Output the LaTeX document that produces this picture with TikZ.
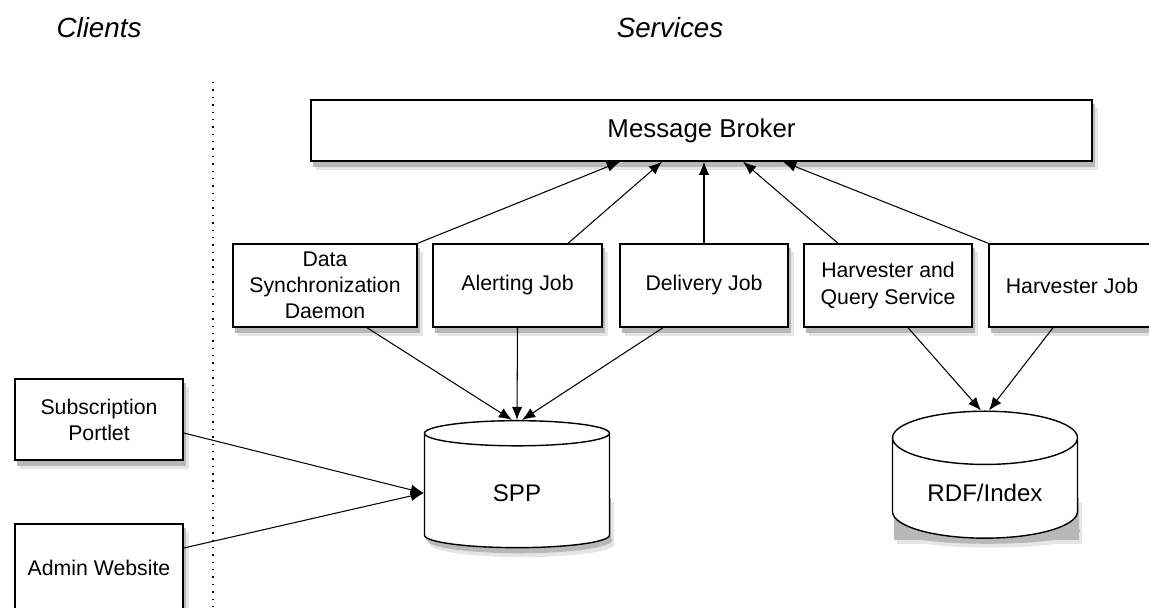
\documentclass[tikz,border=0pt]{standalone}
\usepackage{fontspec}
\setmainfont{Liberation Sans}
\usetikzlibrary{shapes.geometric,arrows.meta,backgrounds}

\tikzset{
    box/.style={draw, line width=0.8pt, fill=white, align=center,
        font=\fontsize{12.1}{14.8}\selectfont},
    store/.style={cylinder, shape border rotate=90, aspect=0.42, draw, line width=0.8pt,
        fill=white, minimum width=3.7cm, minimum height=2.54cm,
        font=\fontsize{13.7}{16}\selectfont},
    arrow/.style={line width=0.6pt, -{Latex[length=7.5pt,width=6pt]}},
    heading/.style={font=\fontsize{15.8}{18}\selectfont\itshape}
}

\begin{document}
\begin{tikzpicture}[x=0.02cm, y=-0.02cm]
        \useasboundingbox (0,0) rectangle (1149,608);

        \node[heading] (clients) at (99,28) {Clients};
        \node[heading] (services) at (670,28) {Services};
        \draw[line width=0.8pt, dash pattern=on 0.8pt off 3.4pt] (213,82) -- (213,608);

        % broker and jobs
        \node[box, minimum width=15.62cm, minimum height=1.22cm,
              font=\fontsize{14.7}{17}\selectfont] (broker) at (701.5,130.5) {Message Broker};
        \node[box, minimum width=3.68cm, minimum height=1.66cm] (sync) at (325,285.5) {Data\\Synchronization\\Daemon};
        \node[box, minimum width=3.38cm, minimum height=1.66cm] (alert) at (517.5,285.5) {Alerting Job};
        \node[box, minimum width=3.36cm, minimum height=1.66cm] (deliver) at (704,285.5) {Delivery Job};
        \node[box, minimum width=3.36cm, minimum height=1.66cm] (query) at (888,285.5) {Harvester and\\Query Service};
        \node[box, minimum width=3.32cm, minimum height=1.66cm] (harvest) at (1072,285.5) {Harvester Job};

        % clients
        \node[box, minimum width=3.36cm, minimum height=1.62cm] (portlet) at (99,419.5) {Subscription\\Portlet};
        \node[box, minimum width=3.36cm, minimum height=1.76cm] (admin) at (99,568) {Admin Website};

        % stores
        \node[store] (spp) at (517,493) {SPP};
        \node[store] (rdf) at (985,493) {RDF/Index};

        % shadows
        \begin{scope}[on background layer]
            \foreach \n in {broker,sync,alert,deliver,query,harvest,portlet,admin} {
                \fill[black!10] ([xshift=3pt,yshift=-5pt]\n.south west) rectangle ([xshift=3pt,yshift=-5pt]\n.north east);
                \fill[black!28] ([xshift=1.5pt,yshift=-2.8pt]\n.south west) rectangle ([xshift=1.5pt,yshift=-2.8pt]\n.north east);
            }
            \foreach \n in {spp,rdf} {
                \fill[black!10] ([xshift=3pt,yshift=-5pt]\n.south) ++(0,-13) ellipse (1.85cm and 0.26cm);
                \fill[black!10] ([xshift=3pt,yshift=-5pt]\n.west) rectangle ++(185,42);
                \fill[black!28] ([xshift=1.5pt,yshift=-2.8pt]\n.south) ++(0,-13) ellipse (1.85cm and 0.26cm);
                \fill[black!28] ([xshift=1.5pt,yshift=-2.8pt]\n.west) rectangle ++(185,42);
            }
        \end{scope}

        \draw[arrow] (sync.north east) -- ([xshift=-1.63cm]broker.south);
        \draw[arrow] ([xshift=1.01cm]alert.north) -- ([xshift=-0.79cm]broker.south);
        \draw[arrow] (deliver.north) -- (deliver.north |- broker.south);
        \draw[arrow] ([xshift=-1cm]query.north) -- ([xshift=0.83cm]broker.south);
        \draw[arrow] (harvest.north west) -- ([xshift=1.63cm]broker.south);

        \draw[arrow] ([xshift=0.84cm]sync.south) -- ([xshift=-0.1cm]spp.north);
        \draw[arrow] (alert.south) -- (spp.north);
        \draw[arrow] ([xshift=-0.82cm]deliver.south) -- ([xshift=0.1cm]spp.north);
        \draw[arrow] ([xshift=0.4cm]query.south) -- ([xshift=-0.08cm]rdf.north);
        \draw[arrow] ([xshift=-0.38cm]harvest.south) -- ([xshift=0.08cm]rdf.north);

        \draw[arrow] ([yshift=-0.27cm]portlet.east) -- (spp.west);
        \draw[arrow] ([yshift=0.4cm]admin.east) -- (spp.west);
    \end{tikzpicture}
\end{document}
